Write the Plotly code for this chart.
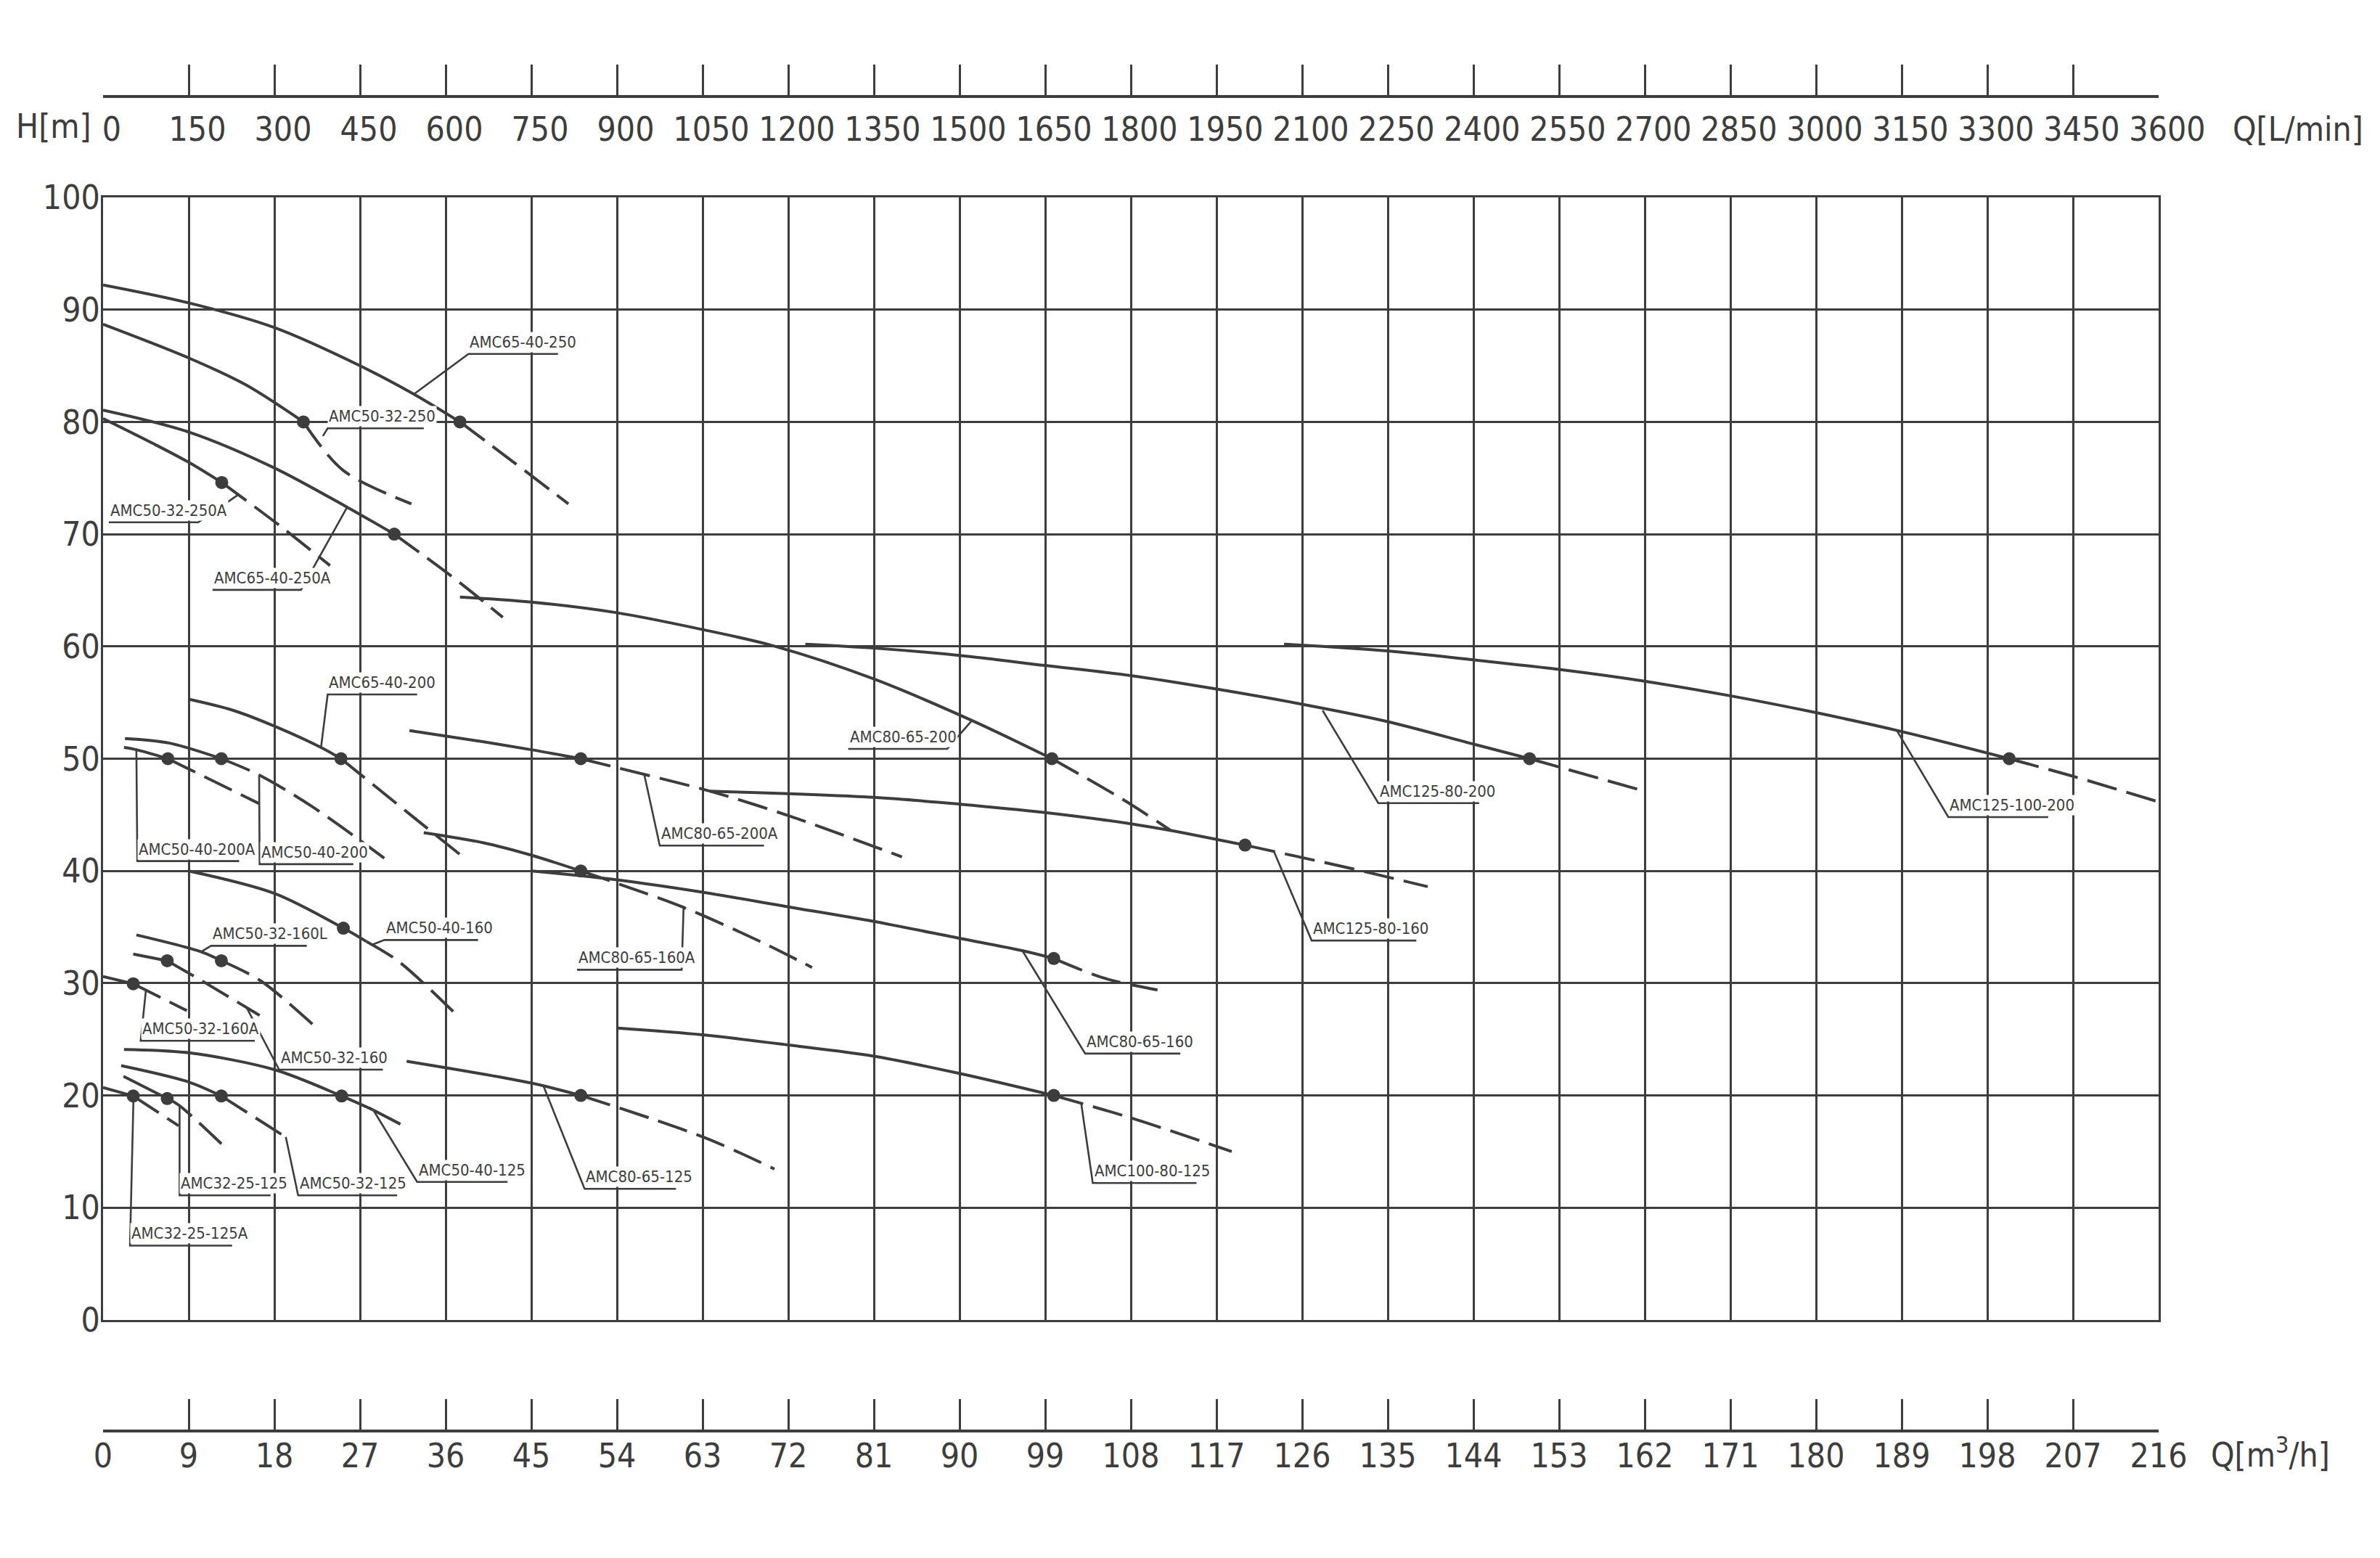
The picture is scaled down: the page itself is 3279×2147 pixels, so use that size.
import plotly.graph_objects as go

# ---------------- data ----------------
q_m3h_ticks = list(range(0, 217, 9))
q_lmin_ticks = list(range(0, 3601, 150))
h_ticks = list(range(0, 101, 10))

names = ["AMC65-40-250", "AMC50-32-250", "AMC50-32-250A", "AMC65-40-250A",
         "AMC65-40-200", "AMC50-40-200A", "AMC50-40-200", "AMC80-65-200A",
         "AMC80-65-200", "AMC125-80-200", "AMC125-100-200", "AMC125-80-160",
         "AMC80-65-160A", "AMC80-65-160", "AMC50-40-160", "AMC50-32-160L",
         "AMC50-32-160", "AMC50-32-160A", "AMC50-40-125", "AMC50-32-125",
         "AMC32-25-125", "AMC32-25-125A", "AMC80-65-125", "AMC100-80-125"]

# solid part of each H-Q curve (Q in m3/h, H in m)
solid_q = [[0, 9, 18, 27, 32.6, 37.5],
           [0, 9, 15, 21.05],
           [0, 5.2, 9, 12.47],
           [0, 9, 18, 25.65, 30.6],
           [9, 13.7, 18, 22.9, 25.0],
           [2.2, 3.5, 6.81],
           [2.3, 6.9, 12.43],
           [32.2, 40, 45, 50.2],
           [37.5, 45, 54, 63, 70.4, 81, 91.3, 99.7],
           [73.8, 81, 90, 99, 108, 117, 126, 135, 144, 149.9],
           [124.1, 135, 144, 153, 162, 171, 180, 188.6, 200.3],
           [63.8, 81, 90, 99, 108, 112.2, 120],
           [33.7, 40, 45, 50.2],
           [45.05, 54, 63, 72, 81, 90, 96.6, 99.9],
           [9, 18, 25.25, 27.7],
           [3.5, 10.3, 12.43],
           [3.17, 6.74],
           [0, 3.17],
           [2.2, 9, 18, 25.07, 28.4],
           [1.9, 9, 12.43],
           [2.15, 6.74],
           [0, 3.17],
           [31.9, 45, 50.2],
           [54.1, 63, 72, 81, 90, 99.9]]
solid_h = [[92.2, 90.6, 88.4, 85.0, 82.5, 80.0],
           [88.7, 85.7, 83.3, 80.0],
           [80.3, 78.1, 76.4, 74.6],
           [81.05, 79.1, 75.9, 72.4, 70.0],
           [55.3, 54.3, 52.9, 51.0, 50.0],
           [51.0, 50.8, 50.0],
           [51.8, 51.4, 50.0],
           [52.5, 51.5, 50.8, 50.0],
           [64.4, 63.95, 63.0, 61.5, 60.06, 57.1, 53.4, 50.0],
           [60.2, 59.85, 59.2, 58.3, 57.4, 56.2, 54.85, 53.3, 51.3, 50.0],
           [60.2, 59.6, 58.8, 57.95, 56.9, 55.6, 54.1, 52.5, 50.0],
           [47.1, 46.55, 45.95, 45.2, 44.2, 43.6, 42.3],
           [43.4, 42.5, 41.4, 40.0],
           [40.0, 39.2, 38.1, 36.8, 35.5, 34.0, 32.9, 32.2],
           [40.0, 38.0, 34.9, 33.7],
           [34.3, 32.8, 32.0],
           [32.6, 32.0],
           [30.6, 29.95],
           [24.1, 23.8, 22.3, 19.95, 18.7],
           [22.66, 21.2, 19.95],
           [21.7, 19.73],
           [20.7, 19.95],
           [23.04, 21.1, 20.0],
           [26.0, 25.4, 24.5, 23.5, 21.96, 20.0]]

# dashed continuation of each curve
dash_q = [[37.5, 43.0, 48.9],
          [21.05, 25.2, 32.4],
          [12.47, 18.5, 23.85],
          [30.6, 36.55, 42.0],
          [25.0, 32.45, 37.9],
          [6.81, 16.4],
          [12.43, 16.4, 21.9, 29.55],
          [50.2, 54, 63.8, 72.1, 83.95],
          [99.7, 107.3, 112.2],
          [149.9, 162],
          [200.3, 207.3, 216],
          [120, 131.4, 139.2],
          [50.2, 54, 61, 69.1, 74.5],
          [99.9, 105.2, 110.8],
          [27.7, 31.06, 37.0],
          [12.43, 16.5, 22.4],
          [6.74, 10.3, 16.45],
          [3.17, 8.8],
          [28.4, 31.8],
          [12.43, 19.35],
          [6.74, 7.94, 13.05],
          [3.17, 7.94],
          [50.2, 63.2, 70.55],
          [99.9, 108.4, 118.6]]
dash_h = [[80.0, 76.5, 72.7],
          [80.0, 75.7, 72.7],
          [74.6, 70.8, 67.2],
          [70.0, 66.3, 62.6],
          [50.0, 44.9, 41.2],
          [50.0, 46.0],
          [50.0, 48.55, 45.77, 41.14],
          [50.0, 49.2, 47.1, 44.9, 41.25],
          [50.0, 46.3, 43.6],
          [50.0, 47.1],
          [50.0, 48.36, 46.15],
          [42.3, 40.17, 38.6],
          [40.0, 38.9, 36.75, 33.7, 31.4],
          [32.2, 30.45, 29.4],
          [33.7, 31.94, 27.3],
          [32.0, 30.25, 26.05],
          [32.0, 30.26, 27.13],
          [29.95, 27.56],
          [18.7, 17.2],
          [19.95, 16.2],
          [19.73, 19.15, 15.2],
          [19.95, 17.3],
          [20.0, 16.25, 13.45],
          [20.0, 17.9, 15.0]]

# rated duty points (dots)
duty_q = [37.5, 21.05, 12.47, 30.6, 25.0, 6.81, 12.43, 50.2, 99.7, 149.9, 200.3, 120,
          50.2, 99.9, 25.25, 12.43, 6.74, 3.17, 25.07, 12.43, 6.74, 3.17, 50.2, 99.9]
duty_h = [80, 80, 74.6, 70, 50, 50, 50, 50, 50, 50, 50, 42.3,
          40, 32.2, 34.9, 32.0, 32.0, 29.95, 19.95, 19.95, 19.73, 19.95, 20, 20]

# ---------------- label layout (leader / underline positions) ----------------
lab_q0 = [38.4, 23.6, 0.6, 11.5, 23.6, 3.6, 16.45, 58.5, 78.3, 134.0, 193.9, 127.0,
          49.8, 103.2, 29.56, 11.34, 18.5, 3.95, 33.0, 20.5, 8.04, 2.83, 50.6, 104.0]
lab_q1 = [47.8, 33.7, 10.0, 20.8, 33.0, 14.3, 26.3, 69.45, 88.7, 144.6, 204.4, 138.0,
          60.8, 113.2, 39.4, 21.4, 29.4, 15.94, 42.5, 30.9, 17.6, 13.56, 60.2, 114.9]
lab_h = [86.05, 79.43, 71.06, 65.04, 55.72, 40.88, 40.6, 42.26, 50.87, 46.04, 44.8, 33.8,
         31.2, 23.73, 33.85, 33.33, 22.3, 24.87, 12.3, 11.1, 11.1, 6.63, 11.68, 12.2]
lab_side = ["L", "L", "R", "R", "L", "L", "L", "L", "R", "L", "L", "L",
            "R", "L", "L", "L", "L", "L", "L", "L", "L", "L", "L", "L"]
lead_q = [32.7, 23.1, 14.24, 25.65, 22.9, 3.5, 16.4, 56.85, 91.3, 128.15, 188.5, 123.0,
          61.0, 96.6, 28.2, 10.3, 15.1, 4.5, 28.4, 19.2, 8.04, 3.2, 46.3, 102.8]
lead_h = [82.5, 78.74, 73.54, 72.4, 50.97, 50.8, 48.55, 48.66, 53.4, 54.3, 52.5, 41.8,
          36.75, 32.9, 33.4, 32.8, 27.8, 29.35, 18.7, 16.3, 19.15, 19.9, 20.8, 19.2]

# ---------------- styling ----------------
PAGE_W, PAGE_H = 3279, 2147
OFF = 8                                  # default body margin of the html page
W, H = PAGE_W - OFF, PAGE_H - OFF        # figure size
PL, PR, PT, PB = 142, 2974, 272, 1819    # plot area in page px
TOP_AX, BOT_AX = 133, 1972               # scale axis lines in page px
INK = "#3d3d3d"
FONT = "DejaVu Sans Condensed, Liberation Sans Narrow, Liberation Sans, sans-serif"
TICK_SIZE = 46
LAB_SIZE = 22
DASH = "42px,14px"
PW = PR - PL


def py(y_page):
    return 1 - (y_page - OFF) / H


def px(x_page):
    return (x_page - PL) / PW


fig = go.Figure()

for i in range(len(names)):
    fig.add_trace(go.Scatter(x=solid_q[i], y=solid_h[i], mode="lines",
                             line=dict(color=INK, width=4, shape="spline", smoothing=0.9),
                             hoverinfo="skip", name=names[i]))
    fig.add_trace(go.Scatter(x=dash_q[i], y=dash_h[i], mode="lines",
                             line=dict(color=INK, width=4, shape="spline", smoothing=0.9,
                                       dash=DASH),
                             hoverinfo="skip", name=names[i]))

# leaders and underlines
lx, ly = [], []
for i in range(len(names)):
    if lab_side[i] == "L":
        a, b = lab_q0[i], lab_q1[i]
    else:
        a, b = lab_q1[i], lab_q0[i]
    lx += [lead_q[i], a, b, None]
    ly += [lead_h[i], lab_h[i], lab_h[i], None]
fig.add_trace(go.Scatter(x=lx, y=ly, mode="lines", line=dict(color=INK, width=2.6),
                         hoverinfo="skip", connectgaps=False))

fig.add_trace(go.Scatter(x=duty_q, y=duty_h, mode="markers",
                         marker=dict(color=INK, size=18), hoverinfo="skip"))

# invisible traces so the extra scale axes are drawn
fig.add_trace(go.Scatter(x=[0], y=[0], xaxis="x2", mode="markers",
                         marker=dict(opacity=0), hoverinfo="skip"))
fig.add_trace(go.Scatter(x=[0], y=[0], xaxis="x3", mode="markers",
                         marker=dict(opacity=0), hoverinfo="skip"))

for i in range(len(names)):
    fig.add_annotation(x=lab_q0[i], y=lab_h[i], xref="x", yref="y",
                       text=names[i], showarrow=False, xanchor="left", yanchor="bottom",
                       yshift=2, bgcolor="white", borderpad=1,
                       font=dict(size=LAB_SIZE, color=INK, family=FONT))

fig.add_annotation(x=px(128), y=py(174), xref="paper", yref="paper",
                   text="H[m]", showarrow=False, xanchor="right", yanchor="middle",
                   font=dict(size=TICK_SIZE, color=INK, family=FONT))
fig.add_annotation(x=px(3074), y=py(178), xref="paper", yref="paper",
                   text="Q[L/min]", showarrow=False, xanchor="left", yanchor="middle",
                   font=dict(size=TICK_SIZE, color=INK, family=FONT))
fig.add_annotation(x=px(3044), y=py(2002), xref="paper", yref="paper",
                   text="Q[m<sup>3</sup>/h]", showarrow=False, xanchor="left", yanchor="middle",
                   font=dict(size=TICK_SIZE, color=INK, family=FONT))

axis_common = dict(showline=True, linecolor=INK, zeroline=False, automargin=False)

fig.update_layout(
    width=W, height=H,
    margin=dict(l=PL - OFF, r=PAGE_W - PR, t=0, b=0, autoexpand=False),
    plot_bgcolor="white", paper_bgcolor="white",
    showlegend=False,
    font=dict(family=FONT, color=INK),
    xaxis=dict(range=[0, 216], tickvals=q_m3h_ticks, showgrid=True, gridcolor=INK,
               gridwidth=3, linewidth=3, mirror=True, showticklabels=False, ticks="",
               anchor="y", domain=[0, 1], **axis_common),
    yaxis=dict(range=[0, 100], tickvals=h_ticks, showgrid=True, gridcolor=INK,
               gridwidth=3, linewidth=3, mirror=True, ticks="",
               domain=[py(PB), py(PT)],
               tickfont=dict(size=TICK_SIZE, color=INK, family=FONT),
               ticklabelstandoff=-8, **axis_common),
    xaxis2=dict(range=[0, 3600], tickvals=q_lmin_ticks, overlaying="x", anchor="free",
                position=py(TOP_AX), side="bottom", ticks="inside", ticklen=42,
                tickwidth=3, tickcolor=INK, linewidth=4, showgrid=False, tickangle=0,
                tickfont=dict(size=TICK_SIZE, color=INK, family=FONT),
                ticklabelshift=12, ticklabelstandoff=4, **axis_common),
    xaxis3=dict(range=[0, 216], tickvals=q_m3h_ticks, overlaying="x", anchor="free",
                position=py(BOT_AX), side="bottom", ticks="inside", ticklen=42,
                tickwidth=3, tickcolor=INK, linewidth=4, showgrid=False, tickangle=0,
                tickfont=dict(size=TICK_SIZE, color=INK, family=FONT),
                ticklabelstandoff=-7, **axis_common),
)

fig.write_html("out.html")
